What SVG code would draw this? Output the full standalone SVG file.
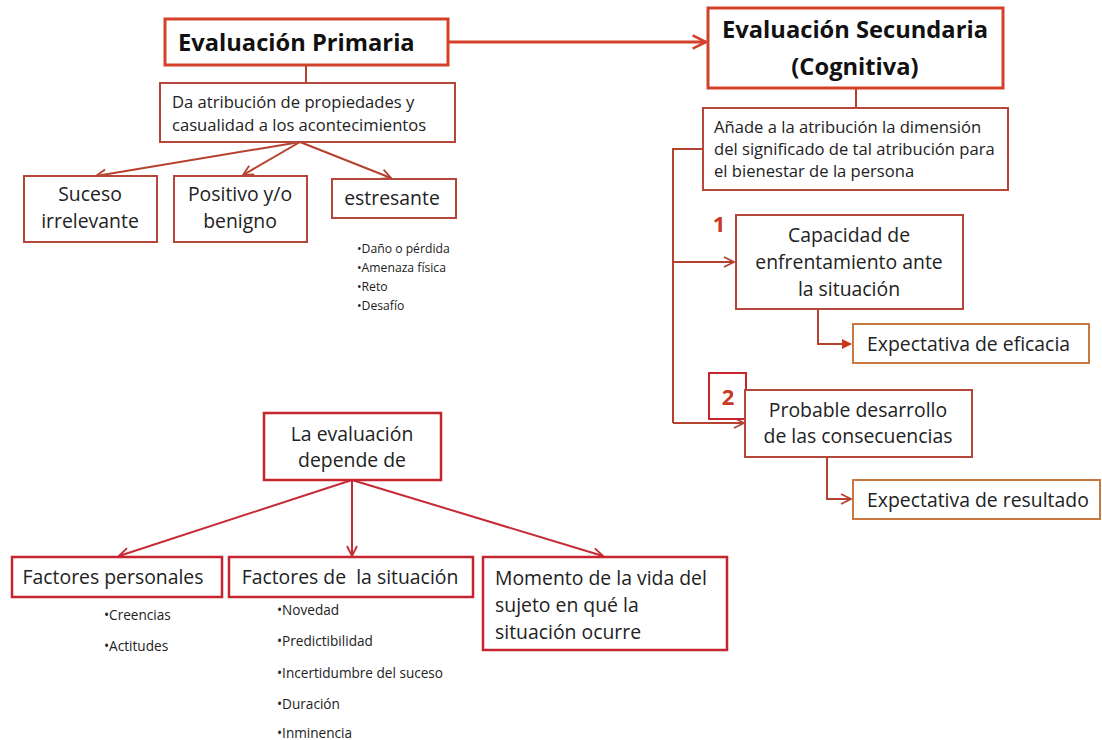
<svg xmlns="http://www.w3.org/2000/svg" width="1102" height="740" viewBox="0 0 1102 740">
<defs>
<marker id="open" viewBox="0 0 12 12" refX="11" refY="6" markerWidth="12" markerHeight="12" markerUnits="userSpaceOnUse" orient="auto">
<path d="M1,1 L11,6 L1,11" fill="none" stroke="#B5412F" stroke-width="1.8"/>
</marker>
<marker id="openRed" viewBox="0 0 12 12" refX="11" refY="6" markerWidth="12" markerHeight="12" markerUnits="userSpaceOnUse" orient="auto">
<path d="M1,1 L11,6 L1,11" fill="none" stroke="#C62A35" stroke-width="1.8"/>
</marker>
<marker id="big" viewBox="0 0 12 12" refX="11" refY="6" markerWidth="16" markerHeight="16" markerUnits="userSpaceOnUse" orient="auto">
<path d="M1,1 L11,6 L1,11" fill="none" stroke="#D4412A" stroke-width="2"/>
</marker>
<marker id="solid" viewBox="0 0 10 10" refX="9" refY="5" markerWidth="10" markerHeight="10" markerUnits="userSpaceOnUse" orient="auto">
<path d="M0,0 L10,5 L0,10 z" fill="#C8361F"/>
</marker>
</defs>
<style>
text{font-family:"Open Sans","Liberation Sans",sans-serif;fill:#222}
.big{font-size:23.7px;font-weight:bold;fill:#111}
.t16{font-size:16.6px}
.t18{font-size:19.4px}
.sm{font-size:12.2px}
.sm2{font-size:13.6px}
.box{fill:#fff}
.thick{stroke:#D4412A;stroke-width:3}
.brown{stroke:#B5473A;stroke-width:2}
.red{stroke:#C8242F;stroke-width:2.5}
.orange{stroke:#C9793F;stroke-width:2}
.c{stroke:#B5412F;stroke-width:2;fill:none}
.cr{stroke:#C62A35;stroke-width:2;fill:none}
.num{font-size:22px;font-weight:bold;fill:#C83A25}
</style>
<rect width="1102" height="740" fill="#fff"/>

<g id="connectors">
<line x1="448" y1="42" x2="706" y2="42" stroke="#D4412A" stroke-width="3" marker-end="url(#big)"/>
<line class="c" x1="306" y1="65" x2="306" y2="83"/>
<line class="c" x1="856" y1="88" x2="856" y2="108"/>
<line class="c" x1="300" y1="142" x2="96" y2="176" marker-end="url(#open)"/>
<line class="c" x1="300" y1="142" x2="243" y2="175" marker-end="url(#open)"/>
<line class="c" x1="300" y1="142" x2="391" y2="178" marker-end="url(#open)"/>
<polyline class="c" points="703,149 673,149 673,423"/>
<line class="c" x1="673" y1="262" x2="734" y2="262" marker-end="url(#open)"/>
<line class="c" x1="673" y1="423" x2="744" y2="423" marker-end="url(#open)"/>
<polyline class="c" points="818,309 818,344 851,344" stroke="#C8361F" marker-end="url(#solid)"/>
<polyline class="c" points="827,457 827,499 851,499" marker-end="url(#open)"/>
<line class="cr" x1="352" y1="480" x2="119" y2="556" marker-end="url(#openRed)"/>
<line class="cr" x1="352" y1="480" x2="352" y2="556" marker-end="url(#openRed)"/>
<line class="cr" x1="352" y1="480" x2="603" y2="556" marker-end="url(#openRed)"/>
</g>

<g id="evaluacion-primaria">
<rect class="box thick" x="165" y="19" width="283" height="46"/>
<text class="big" x="178" y="51">Evaluación Primaria</text>
</g>

<g id="evaluacion-secundaria">
<rect class="box thick" x="708" y="8" width="295" height="80"/>
<text class="big" x="855" y="38" text-anchor="middle">Evaluación Secundaria</text>
<text class="big" x="855" y="75" text-anchor="middle">(Cognitiva)</text>
</g>

<g id="da-atribucion">
<rect class="box brown" x="160" y="83" width="295" height="59"/>
<text class="t16" x="172" y="108">Da atribución de propiedades y</text>
<text class="t16" x="172" y="131">casualidad a los acontecimientos</text>
</g>

<g id="anade">
<rect class="box brown" x="703" y="108" width="305" height="82"/>
<text class="t16" x="714" y="133">Añade a la atribución la dimensión</text>
<text class="t16" x="714" y="155">del significado de tal atribución para</text>
<text class="t16" x="714" y="177">el bienestar de la persona</text>
</g>

<g id="suceso">
<rect class="box brown" x="24" y="176" width="133" height="66"/>
<text class="t18" x="90" y="201" text-anchor="middle">Suceso</text>
<text class="t18" x="90" y="228" text-anchor="middle">irrelevante</text>
</g>

<g id="positivo">
<rect class="box brown" x="174" y="176" width="133" height="66"/>
<text class="t18" x="240" y="201" text-anchor="middle">Positivo y/o</text>
<text class="t18" x="240" y="228" text-anchor="middle">benigno</text>
</g>

<g id="estresante">
<rect class="box brown" x="332" y="179" width="124" height="39"/>
<text class="t18" x="392" y="205" text-anchor="middle">estresante</text>
</g>

<g id="estresante-lista">
<text class="sm" x="357" y="253">•Daño o pérdida</text>
<text class="sm" x="357" y="272">•Amenaza física</text>
<text class="sm" x="357" y="291">•Reto</text>
<text class="sm" x="357" y="310">•Desafío</text>
</g>

<g id="num1">
<text class="num" x="719" y="232" text-anchor="middle">1</text>
</g>

<g id="capacidad">
<rect class="box brown" x="736" y="215" width="227" height="94"/>
<text class="t18" x="849" y="242" text-anchor="middle">Capacidad de</text>
<text class="t18" x="849" y="269" text-anchor="middle">enfrentamiento ante</text>
<text class="t18" x="849" y="296" text-anchor="middle">la situación</text>
</g>

<g id="eficacia">
<rect class="box orange" x="853" y="324" width="236" height="39"/>
<text class="t18" x="867" y="351">Expectativa de eficacia</text>
</g>

<g id="num2">
<rect class="box" x="709" y="373" width="37" height="46" stroke="#C8242F" stroke-width="2"/>
<text class="num" x="728" y="405" text-anchor="middle">2</text>
</g>

<g id="probable">
<rect class="box brown" x="745" y="390" width="227" height="67"/>
<text class="t18" x="858" y="417" text-anchor="middle">Probable desarrollo</text>
<text class="t18" x="858" y="443" text-anchor="middle">de las consecuencias</text>
</g>

<g id="resultado">
<rect class="box orange" x="853" y="480" width="247" height="39"/>
<text class="t18" x="867" y="507">Expectativa de resultado</text>
</g>

<g id="depende">
<rect class="box red" x="264" y="413" width="177" height="67"/>
<text class="t18" x="352" y="441" text-anchor="middle">La evaluación</text>
<text class="t18" x="352" y="467" text-anchor="middle">depende de</text>
</g>

<g id="personales">
<rect class="box red" x="12" y="557" width="210" height="40" stroke-width="2"/>
<text class="t18" x="113" y="584" text-anchor="middle">Factores personales</text>
</g>

<g id="situacion">
<rect class="box red" x="229" y="557" width="244" height="40" stroke-width="2"/>
<text class="t18" x="350" y="584" text-anchor="middle" xml:space="preserve">Factores de  la situación</text>
</g>

<g id="momento">
<rect class="box red" x="483" y="557" width="244" height="93" stroke-width="2"/>
<text class="t18" x="495" y="585">Momento de la vida del</text>
<text class="t18" x="495" y="612">sujeto en qué la</text>
<text class="t18" x="495" y="639">situación ocurre</text>
</g>

<g id="personales-lista">
<text class="sm2" x="104" y="620">•Creencias</text>
<text class="sm2" x="104" y="651">•Actitudes</text>
</g>

<g id="situacion-lista">
<text class="sm2" x="277" y="615">•Novedad</text>
<text class="sm2" x="277" y="646">•Predictibilidad</text>
<text class="sm2" x="277" y="678">•Incertidumbre del suceso</text>
<text class="sm2" x="277" y="709">•Duración</text>
<text class="sm2" x="277" y="738">•Inminencia</text>
</g>
</svg>
